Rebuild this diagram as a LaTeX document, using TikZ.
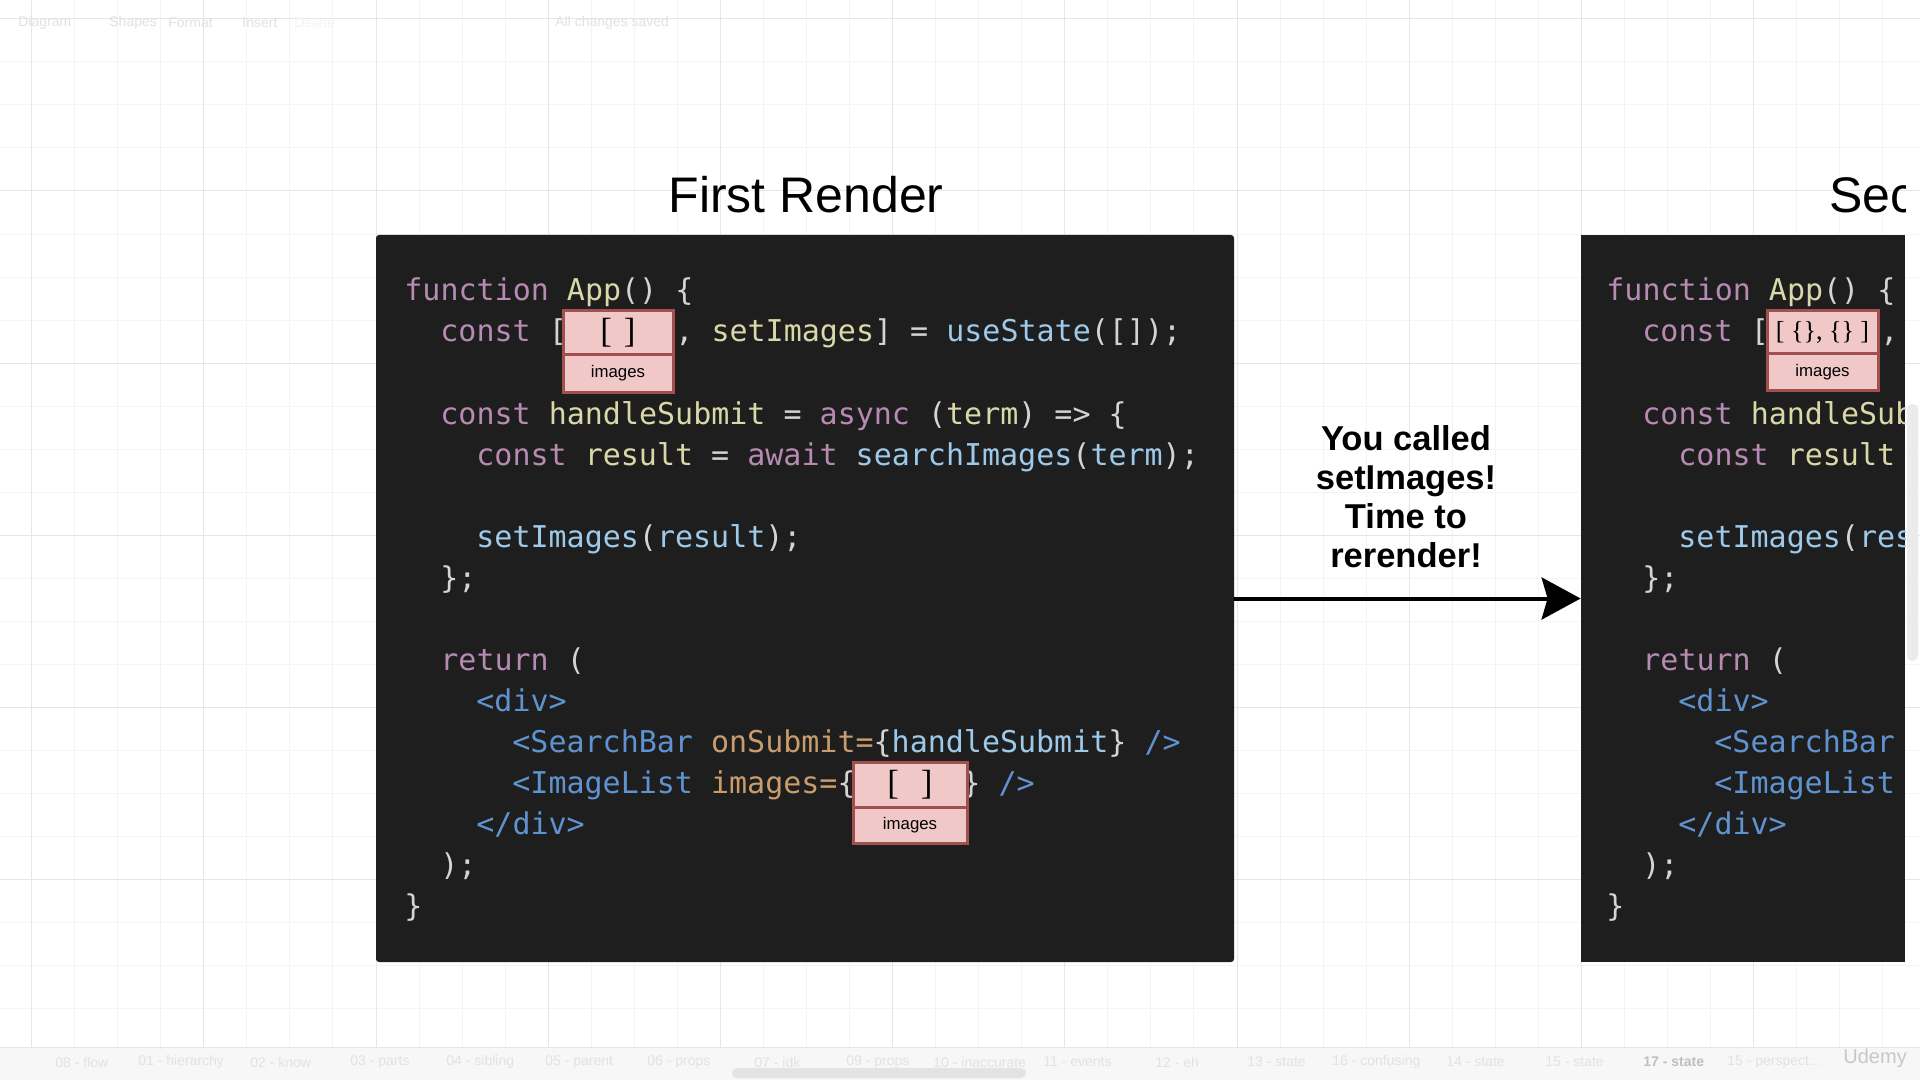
\documentclass[tikz,border=0pt]{standalone}
\usepackage{fontspec}
\setmainfont{Liberation Sans}
\newfontfamily\codefont{DejaVu Sans Mono}
\newfontfamily\boxserif{Liberation Serif}
\usetikzlibrary{arrows.meta}

\definecolor{codebg}{HTML}{1E1E1E}
\definecolor{ckw}{HTML}{B68AB2}
\definecolor{cfn}{HTML}{D8D8A8}
\definecolor{cvar}{HTML}{9ECAEA}
\definecolor{ctag}{HTML}{5E93CF}
\definecolor{cattr}{HTML}{C89C6C}
\definecolor{cpun}{HTML}{D4D4D4}
\definecolor{pinkfill}{HTML}{F1C8C8}
\definecolor{pinkedge}{HTML}{A0504D}
\definecolor{gridminor}{HTML}{F4F4F4}
\definecolor{gridmajor}{HTML}{E6E6E6}
\definecolor{uifaint}{HTML}{E2E2E2}

\newcommand\cKw[1]{\textcolor{ckw}{#1}}
\newcommand\cFn[1]{\textcolor{cfn}{#1}}
\newcommand\cVr[1]{\textcolor{cvar}{#1}}
\newcommand\cTg[1]{\textcolor{ctag}{#1}}
\newcommand\cAt[1]{\textcolor{cattr}{#1}}

\tikzset{
  code/.style={anchor=base west, inner sep=0pt, text=cpun,
    font={\codefont\fontsize{15pt}{18pt}\selectfont}},
  codebox/.style={fill=codebg, draw=none, inner sep=0pt},
  pinkpart/.style={draw=pinkedge, fill=pinkfill, line width=1.5pt, inner sep=0pt},
  pinkname/.style={pinkpart, font={\fontsize{8.4pt}{10pt}\selectfont}},
  pinkval/.style={pinkpart, font={\boxserif\fontsize{17.5pt}{20pt}\selectfont}},
  uitext/.style={anchor=west, inner sep=0pt, text=uifaint, font={\fontsize{7pt}{8pt}\selectfont}},
  heading/.style={anchor=base, inner sep=0pt, font={\fontsize{25pt}{30pt}\selectfont}},
  callout/.style={align=center, inner sep=0pt, font={\bfseries\fontsize{17.25pt}{19.5pt}\selectfont}},
  bigarrow/.style={line width=2pt, -{Stealth[length=19.5pt, width=21pt, inset=3pt]}}
}

\begin{document}
\begin{tikzpicture}[x=0.5pt, y=-0.5pt]
\useasboundingbox (0,0) rectangle (1920,1080);
\fill[white] (0,0) rectangle (1920,1080);

% grid
\foreach \k in {-8,...,36} {
  \pgfmathsetmacro\gx{376+43.05*\k}
  \draw[gridminor, line width=0.5pt] (\gx,0) -- (\gx,1047);
}
\foreach \k in {-4,...,20} {
  \pgfmathsetmacro\gy{191+43.05*\k}
  \draw[gridminor, line width=0.5pt] (0,\gy) -- (1920,\gy);
}
\foreach \k in {-2,...,9} {
  \pgfmathsetmacro\gx{376+172.2*\k}
  \draw[gridmajor, line width=0.5pt] (\gx,0) -- (\gx,1047);
}
\foreach \k in {-1,...,5} {
  \pgfmathsetmacro\gy{191+172.2*\k}
  \draw[gridmajor, line width=0.5pt] (0,\gy) -- (1920,\gy);
}

% faint toolbar
\node[uitext] (tb1) at (18,23) {Diagram};
\node[uitext] (tb2) at (109,23) {Shapes};
\node[uitext] (tb3) at (168,23) {Format};
\node[uitext] (tb4) at (242,23) {Insert};
\node[uitext, text=gridminor] (tb5) at (294,23) {Delete};
\node[uitext] (tb6) at (555,23) {All changes saved};

% bottom tab strip
\fill[white!97!black] (0,1047) rectangle (1920,1080);
\draw[gridmajor, line width=0.5pt] (0,1047) -- (1920,1047);
\node[uitext] (t1) at (55,1062) {08 - flow};
\node[uitext] (t2) at (138,1062) {01 - hierarchy};
\node[uitext] (t3) at (250,1062) {02 - know};
\node[uitext] (t4) at (350,1062) {03 - parts};
\node[uitext] (t5) at (446,1062) {04 - sibling};
\node[uitext] (t6) at (545,1062) {05 - parent};
\node[uitext] (t7) at (647,1062) {06 - props};
\node[uitext] (t8) at (754,1062) {07 - idk};
\node[uitext] (t9) at (846,1062) {09 - props};
\node[uitext] (t10) at (933,1062) {10 - inaccurate};
\node[uitext] (t11) at (1043,1062) {11 - events};
\node[uitext] (t12) at (1155,1062) {12 - eh};
\node[uitext] (t13) at (1247,1062) {13 - state};
\node[uitext] (t14) at (1332,1062) {16 - confusing};
\node[uitext] (t15) at (1446,1062) {14 - state};
\node[uitext] (t16) at (1545,1062) {15 - state};
\node[uitext, text=black!25, font={\bfseries\fontsize{7pt}{8pt}\selectfont}] (t17) at (1643,1062) {17 - state};
\node[uitext] (t18) at (1727,1062) {15 - perspect...};
\node[uitext, text=black!22, font={\fontsize{10pt}{12pt}\selectfont}] (udemy) at (1843,1058) {Udemy};
\fill[black!11, rounded corners=2.5pt] (732,1068) rectangle (1026,1078);

% right scrollbar
\fill[black!8, rounded corners=2.5pt] (1907,404) rectangle (1918,661);

% ---------- First render ----------
\node[heading] (title1) at (806,213) {First Render};
\node[codebox, rounded corners=1.5pt, minimum width=429pt, minimum height=363.5pt] (lbox) at (805,598.5) {};

\node[code] (l0) at (404,301) {\cKw{function} \cFn{App}() \{};
\node[code] (l1a) at (440,342) {\cKw{const} [};
\node[code] (l1b) at (675,342) {, \cFn{setImages}] = \cVr{useState}([]);};
\node[code] (l3) at (440,424) {\cKw{const} \cFn{handleSubmit} = \cKw{async} (\cFn{term}) => \{};
\node[code] (l4) at (476,465) {\cKw{const} \cFn{result} = \cKw{await} \cVr{searchImages}(\cVr{term});};
\node[code] (l6) at (476,547) {\cVr{setImages}(\cVr{result});};
\node[code] (l7) at (440,588) {\};};
\node[code] (l9) at (440,670) {\cKw{return} (};
\node[code] (l10) at (476,711) {\cTg{<div>}};
\node[code] (l11) at (512,752) {\cTg{<SearchBar} \cAt{onSubmit=}\{\cVr{handleSubmit}\} \cTg{/>}};
\node[code] (l12a) at (512,793) {\cTg{<ImageList} \cAt{images=}\{};
\node[code] (l12b) at (962,793) {\} \cTg{/>}};
\node[code] (l13) at (476,834) {\cTg{</div>}};
\node[code] (l14) at (440,875) {);};
\node[code] (l15) at (404,916) {\}};

% state boxes (left)
\node[pinkval, minimum width=55pt, minimum height=22pt] (b1v) at (618,333) {\raisebox{-2pt}{[\hspace{6pt}]}};
\node[pinkname, minimum width=55pt, minimum height=18.5pt] (b1n) at (618,373.5) {\raisebox{-1.5pt}{images}};
\node[pinkval, minimum width=57pt, minimum height=22.5pt] (b2v) at (910,784.5) {\raisebox{-2pt}{[\hspace{11pt}]}};
\node[pinkname, minimum width=57pt, minimum height=18pt] (b2n) at (910,825) {\raisebox{-1.5pt}{images}};

% ---------- arrow and callout ----------
\node[callout] (note) at (1406,497) {You called\\setImages!\\Time to\\rerender!};

% ---------- Second render (clipped) ----------
\begin{scope}
\clip (1500,0) rectangle (1905,1047);
\node[heading, anchor=base west] (title2) at (1829,213) {Second Render};
\node[codebox, minimum width=162pt, minimum height=363.5pt] (rbox) at (1743,598.5) {};
\node[code] (r0) at (1606,301) {\cKw{function} \cFn{App}() \{};
\node[code] (r1a) at (1642,342) {\cKw{const} [};
\node[code] (r1b) at (1880,342) {, \cFn{setImages}] = \cVr{useState}([]);};
\node[code] (r3) at (1642,424) {\cKw{const} \cFn{handleSubmit} = \cKw{async} (\cFn{term}) => \{};
\node[code] (r4) at (1678,465) {\cKw{const} \cFn{result} = \cKw{await} \cVr{searchImages}(\cVr{term});};
\node[code] (r6) at (1678,547) {\cVr{setImages}(\cVr{result});};
\node[code] (r7) at (1642,588) {\};};
\node[code] (r9) at (1642,670) {\cKw{return} (};
\node[code] (r10) at (1678,711) {\cTg{<div>}};
\node[code] (r11) at (1714,752) {\cTg{<SearchBar} \cAt{onSubmit=}\{\cVr{handleSubmit}\} \cTg{/>}};
\node[code] (r12) at (1714,793) {\cTg{<ImageList} \cAt{images=}\{};
\node[code] (r13) at (1678,834) {\cTg{</div>}};
\node[code] (r14) at (1642,875) {);};
\node[code] (r15) at (1606,916) {\}};
\node[pinkpart, font={\boxserif\fontsize{13pt}{15pt}\selectfont}, minimum width=55.5pt, minimum height=21.5pt] (b3v) at (1822.5,332.5) {\raisebox{-1pt}{[ \{\}, \{\} ]}};
\node[pinkname, minimum width=55.5pt, minimum height=18pt] (b3n) at (1822.5,372) {\raisebox{-1.5pt}{images}};
\end{scope}

\draw[bigarrow] (lbox.east) -- (rbox.west);
\end{tikzpicture}
\end{document}
